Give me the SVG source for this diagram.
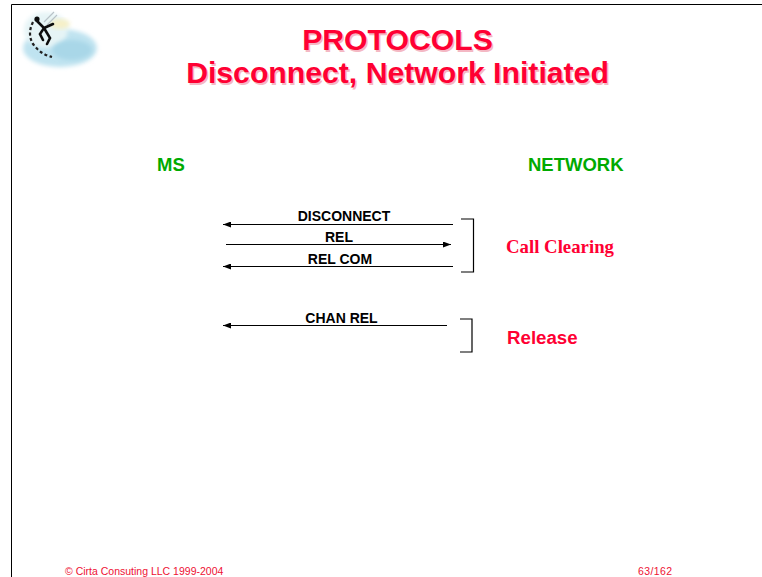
<svg xmlns="http://www.w3.org/2000/svg" width="762" height="577" viewBox="0 0 762 577">
  <style>
    .title { font-family: "Liberation Sans", Arial, sans-serif; font-weight: bold; font-size: 30.2px; fill: #ff0033; text-anchor: middle; }
    .title-shadow { font-family: "Liberation Sans", Arial, sans-serif; font-weight: bold; font-size: 30.2px; fill: #f4b8c4; text-anchor: middle; }
    .party { font-family: "Liberation Sans", Arial, sans-serif; font-weight: bold; font-size: 18.5px; fill: #00aa00; }
    .msg { font-family: "Liberation Sans", Arial, sans-serif; font-weight: bold; font-size: 14px; fill: #000000; text-anchor: middle; }
    .phase-serif { font-family: "Liberation Serif", "Times New Roman", serif; font-weight: bold; font-size: 18.8px; fill: #ff0033; }
    .phase-sans { font-family: "Liberation Sans", Arial, sans-serif; font-weight: bold; font-size: 18.7px; fill: #ff0033; }
    .footer { font-family: "Liberation Sans", Arial, sans-serif; font-size: 10.5px; fill: #ee1133; }
    .line { stroke: #000000; stroke-width: 1; fill: none; }
    .bracket { stroke: #000000; stroke-width: 1.2; fill: none; }
  </style>
  <defs>
    <marker id="arrow" viewBox="0 0 8 6" refX="8" refY="3" markerWidth="8" markerHeight="6" markerUnits="userSpaceOnUse" orient="auto">
      <path d="M0,0 L8,3 L0,6 Z" fill="#000000"/>
    </marker>
    <filter id="soft" x="-20%" y="-20%" width="140%" height="140%">
      <feGaussianBlur stdDeviation="2"/>
    </filter>
    <filter id="softer" x="-20%" y="-20%" width="140%" height="140%">
      <feGaussianBlur stdDeviation="0.7"/>
    </filter>
  </defs>

  <!-- page background and frame -->
  <rect x="0" y="0" width="762" height="577" fill="#ffffff"/>
  <line x1="11.5" y1="4.5" x2="762" y2="4.5" stroke="#000000" stroke-width="1"/>
  <line x1="11.5" y1="4.5" x2="11.5" y2="577" stroke="#000000" stroke-width="1"/>

  <!-- corner logo -->
  <g id="logo">
    <ellipse cx="60" cy="48" rx="37" ry="19" fill="#bfe3f0" filter="url(#soft)"/>
    <ellipse cx="46" cy="30" rx="22" ry="18" fill="#e6f4f6" filter="url(#soft)"/>
    <ellipse cx="72" cy="50" rx="20" ry="10" fill="#a9d7e8" filter="url(#soft)"/>
    <ellipse cx="60" cy="24" rx="10" ry="5" fill="#f6f0c8" filter="url(#soft)"/>
    <path d="M44,22 L54,12 M47,25 L57,15" stroke="#b8c2c8" stroke-width="1.2" filter="url(#softer)"/>
    <path d="M33,22 Q27,34 33,44 Q40,54 52,57" stroke="#222222" stroke-width="2.2" fill="none" stroke-dasharray="3,2.5" filter="url(#softer)"/>
    <path d="M36,20 L44,28 L40,34 L43,40 M44,28 L53,24 M44,28 L50,38 L47,44" stroke="#111111" stroke-width="2.6" fill="none" stroke-linecap="round" filter="url(#softer)"/>
    <circle cx="37" cy="19" r="2.6" fill="#111111" filter="url(#softer)"/>
  </g>

  <!-- title -->
  <g id="title">
    <text class="title-shadow" x="399" y="51.5">PROTOCOLS</text>
    <text class="title" x="397.5" y="50">PROTOCOLS</text>
    <text class="title-shadow" x="399" y="84.5">Disconnect, Network Initiated</text>
    <text class="title" x="397.5" y="83">Disconnect, Network Initiated</text>
  </g>

  <!-- parties -->
  <g id="ms">
    <text class="party" x="157" y="171">MS</text>
  </g>
  <g id="network">
    <text class="party" x="528" y="171">NETWORK</text>
  </g>

  <!-- message flows -->
  <g id="connectors">
    <line class="line" x1="453" y1="224.5" x2="223" y2="224.5" marker-end="url(#arrow)"/>
    <line class="line" x1="226" y1="244.5" x2="451" y2="244.5" marker-end="url(#arrow)"/>
    <line class="line" x1="453" y1="266.5" x2="223" y2="266.5" marker-end="url(#arrow)"/>
    <line class="line" x1="447" y1="325.5" x2="223" y2="325.5" marker-end="url(#arrow)"/>
  </g>

  <g id="msg-disconnect">
    <text class="msg" x="344" y="220.5">DISCONNECT</text>
  </g>
  <g id="msg-rel">
    <text class="msg" x="339" y="241.5">REL</text>
  </g>
  <g id="msg-relcom">
    <text class="msg" x="340" y="264">REL COM</text>
  </g>
  <g id="msg-chanrel">
    <text class="msg" x="341.5" y="322.5">CHAN REL</text>
  </g>

  <!-- phase brackets -->
  <g id="call-clearing">
    <path class="bracket" d="M461,219 H473.5 V272 H461"/>
    <text class="phase-serif" x="506" y="253">Call Clearing</text>
  </g>
  <g id="release">
    <path class="bracket" d="M460,319 H472 V352 H460"/>
    <text class="phase-sans" x="507" y="344">Release</text>
  </g>

  <!-- footer -->
  <g id="footer">
    <text class="footer" x="65" y="575">© Cirta Consuting LLC 1999-2004</text>
    <text class="footer" x="638" y="575" textLength="34">63/162</text>
  </g>
</svg>
